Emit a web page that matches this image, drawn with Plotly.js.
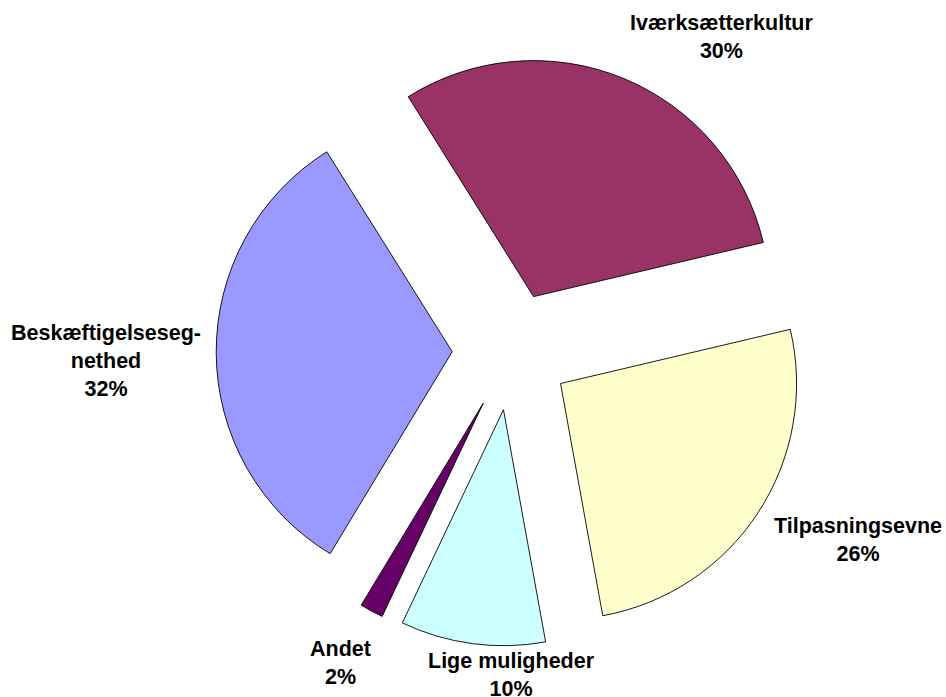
<!DOCTYPE html>
<html>
<head>
<meta charset="utf-8">
<script src="https://cdn.plot.ly/plotly-3.0.1.min.js"></script>
<style>
  html, body { margin: 0; padding: 0; background: #ffffff; }
  #chart { width: 946px; height: 697px; }
</style>
</head>
<body>
<div id="chart"></div>
<script>
// Data (clockwise order starting from the top-left boundary)
var categories = ['Iværksætterkultur', 'Tilpasningsevne', 'Lige muligheder', 'Andet', 'Beskæftigelseseg-<br>nethed'];
var values = [30.2, 25.8, 9.9, 1.6, 32.4];
var colors = ['#993366', '#FFFFCC', '#CCFFFF', '#660066', '#9999FF'];

// Label anchor positions (pixel centres of each label block)
var labelPos = [
  [721, 37],
  [858, 540],
  [511, 675],
  [340, 663],
  [106, 361]
];

var W = 946, H = 697;
var total = values.reduce(function (a, b) { return a + b; }, 0);

var trace = {
  type: 'pie',
  labels: categories,
  values: values,
  sort: false,
  direction: 'clockwise',
  rotation: -32.1,
  pull: values.map(function () { return 0.25; }),
  textinfo: 'none',
  hoverinfo: 'label+percent',
  automargin: false,
  marker: {
    colors: colors,
    line: { color: '#000000', width: 0.9 }
  },
  domain: {
    x: [(511.2 - 295) / W, (511.2 + 295) / W],
    y: [1 - 646.2 / H, 1 - 56.2 / H]
  }
};

var annotations = categories.map(function (c, i) {
  var pct = Math.round(values[i] / total * 100);
  return {
    xref: 'paper', yref: 'paper',
    x: labelPos[i][0] / W,
    y: 1 - labelPos[i][1] / H,
    xanchor: 'center', yanchor: 'middle',
    showarrow: false,
    align: 'center',
    text: c + '<br>' + pct + '%',
    font: { family: 'Liberation Sans, Arial, sans-serif', size: 21.5, color: '#000000', weight: 'bold' }
  };
});

var layout = {
  width: W,
  height: H,
  margin: { l: 0, r: 0, t: 0, b: 0 },
  paper_bgcolor: '#ffffff',
  plot_bgcolor: '#ffffff',
  showlegend: false,
  annotations: annotations
};

Plotly.newPlot('chart', [trace], layout, { displayModeBar: false, staticPlot: true });
</script>
</body>
</html>
